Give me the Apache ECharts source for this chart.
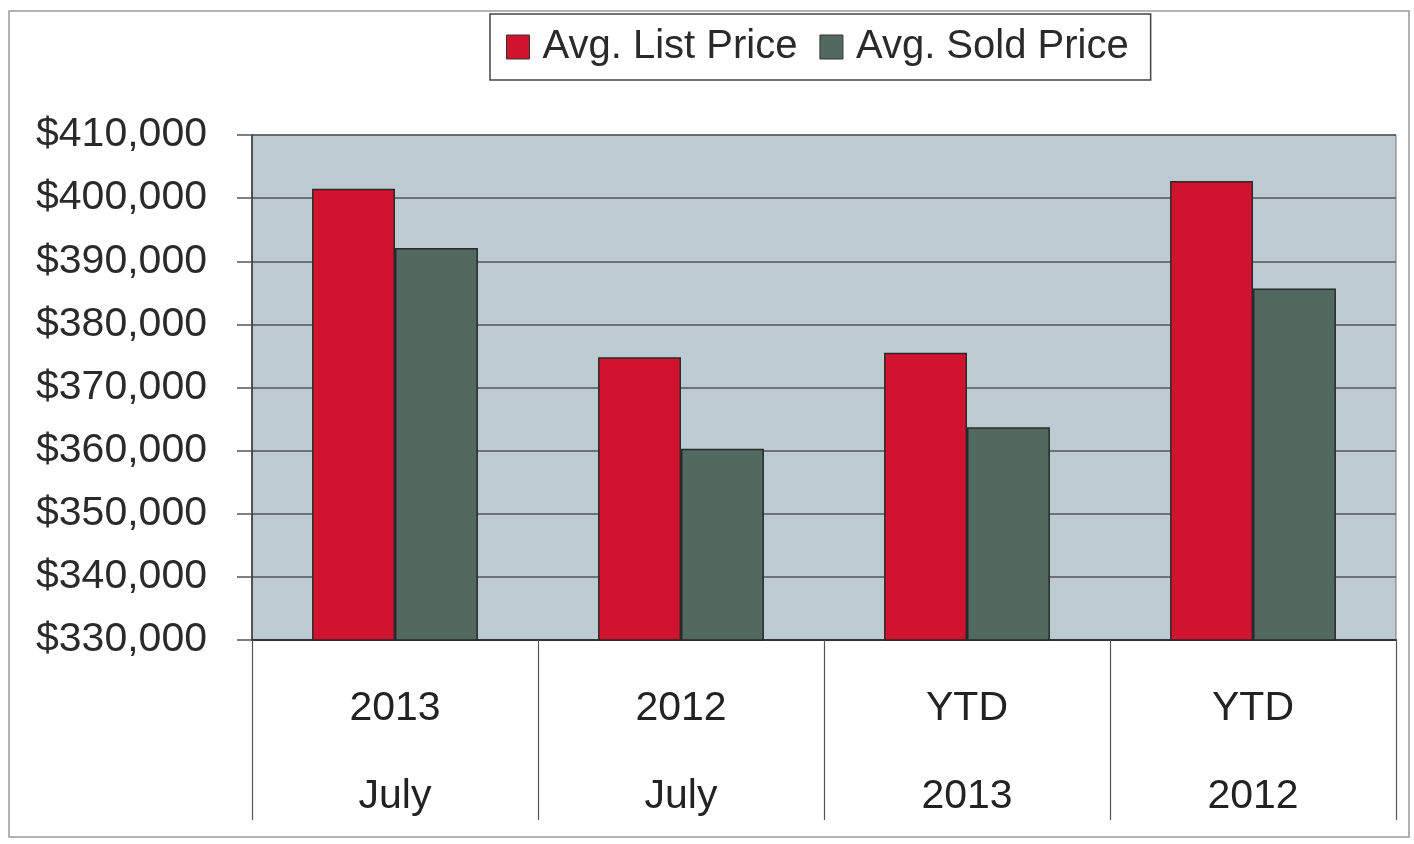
<!DOCTYPE html>
<html>
<head>
<meta charset="utf-8">
<script src="https://cdn.jsdelivr.net/npm/echarts@6/dist/echarts.min.js"></script>
<style>
  html, body { margin: 0; padding: 0; background: #fff; }
  #dataView { width: 1414px; height: 844px; }
</style>
</head>
<body>
<div id="dataView"></div>
<script>
// 数据
var categories = ['2013\nJuly', '2012\nJuly', 'YTD\n2013', 'YTD\n2012'];
var listPrice = [401500, 374800, 375500, 402700];
var soldPrice = [392100, 360300, 363700, 385700];
var seriesNames = ['Avg. List Price', 'Avg. Sold Price'];

var FONT = '"Liberation Sans", Arial, sans-serif';

function money(v) {
	return '$' + String(v).replace(/\B(?=(\d{3})+(?!\d))/g, ',');
}

var dataViewcharts = echarts.init(document.getElementById('dataView'));
var dataViewoption = {
	backgroundColor: '#fff',
	animation: false,
	graphic: [{
		type: 'rect',
		shape: { x: 9, y: 11, width: 1400, height: 826 },
		style: { fill: 'none', stroke: '#9a9a9a', lineWidth: 1.5 },
		silent: true
	}],
	legend: {
		data: seriesNames,
		left: 490,
		top: 14,
		padding: [13, 22, 13, 16],
		icon: 'rect',
		itemWidth: 23,
		itemHeight: 24,
		itemGap: 22,
		borderColor: '#444',
		borderWidth: 1.5,
		backgroundColor: '#fff',
		itemStyle: { borderColor: '#333', borderWidth: 1 },
		textStyle: {
			fontFamily: FONT,
			fontSize: 40,
			color: '#2a2a2a',
			padding: [4, 0, 0, 8]
		}
	},
	grid: {
		left: 252,
		right: 18,
		top: 135,
		bottom: 204,
		show: true,
		backgroundColor: '#bccbd1',
		borderColor: '#777',
		borderWidth: 1
	},
	xAxis: {
		type: 'category',
		data: categories,
		axisLine: { lineStyle: { color: '#333', width: 2 } },
		axisTick: {
			show: true,
			length: 180,
			lineStyle: { color: '#555', width: 1.2 }
		},
		axisLabel: {
			interval: 0,
			margin: 25,
			fontFamily: FONT,
			fontSize: 41,
			lineHeight: 88,
			color: '#222'
		}
	},
	yAxis: {
		type: 'value',
		min: 330000,
		max: 410000,
		interval: 10000,
		axisLine: { show: true, lineStyle: { color: '#333', width: 1.5 } },
		axisTick: { show: true, length: 15, lineStyle: { color: '#555', width: 1.5 } },
		axisLabel: {
			margin: 45,
			fontFamily: FONT,
			fontSize: 41,
			color: '#2a2a2a',
			formatter: money
		},
		splitLine: { lineStyle: { color: '#555', width: 1.5 } }
	},
	series: [
		{
			name: seriesNames[0],
			type: 'bar',
			data: listPrice,
			barGap: '0%',
			barCategoryGap: '42%',
			itemStyle: { color: '#d2132f', borderColor: '#2a2a2a', borderWidth: 1.5 }
		},
		{
			name: seriesNames[1],
			type: 'bar',
			data: soldPrice,
			itemStyle: { color: '#52695f', borderColor: '#2a2a2a', borderWidth: 1.5 }
		}
	]
};
dataViewcharts.setOption(dataViewoption);
</script>
</body>
</html>
